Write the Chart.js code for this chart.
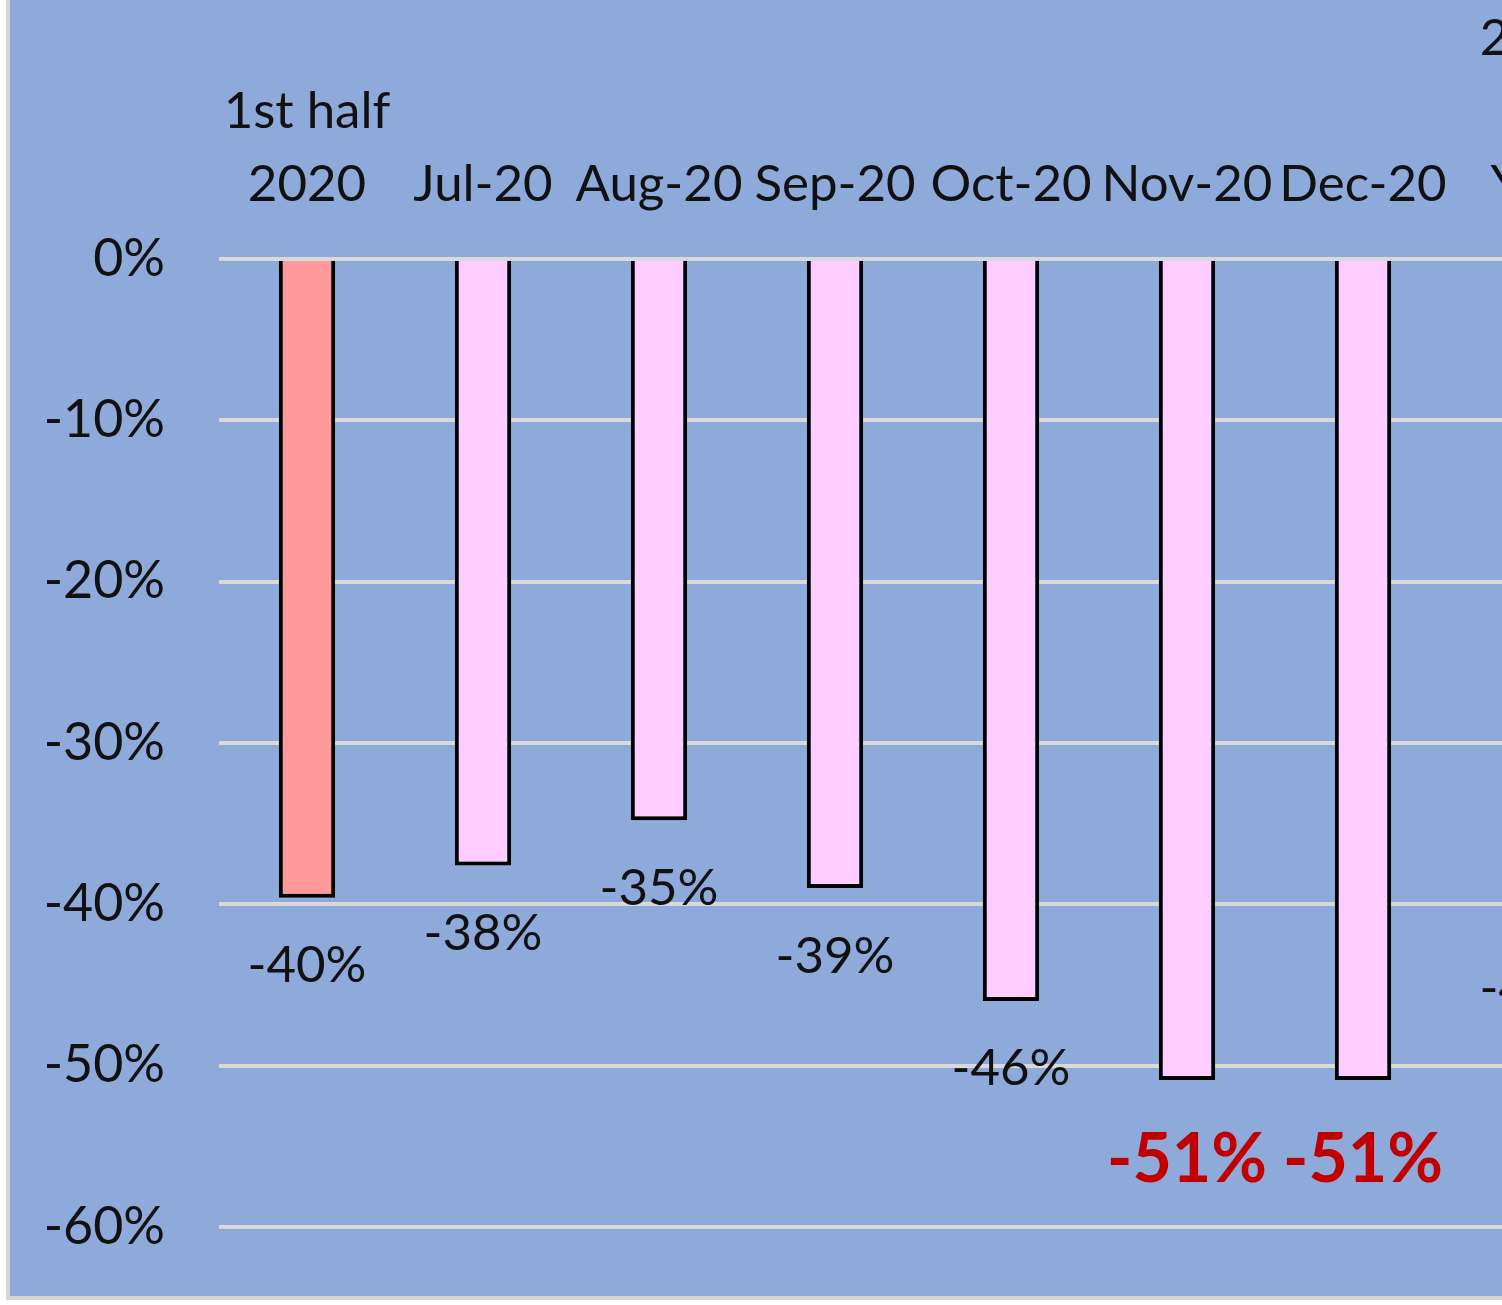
<!DOCTYPE html>
<html>
<head>
<meta charset="utf-8">
<script src="https://cdn.jsdelivr.net/npm/chart.js@4/dist/chart.umd.min.js"></script>
<style>
  html, body { margin: 0; padding: 0; background: #fff; overflow: hidden; }
  #panel {
    position: absolute; left: 6px; top: 0; width: 1624px; height: 1296px; overflow: hidden;
    background: #8eaadb; border-left: 4px solid #d6d6d6; border-bottom: 4px solid #d6d6d6;
  }
  canvas { display: block; }
</style>
</head>
<body>
<div id="panel"><canvas id="myChart" width="1624" height="1312"></canvas></div>
<script>
// categories (last one runs off the right edge, as in the picture)
const categories = [
  ["1st half", "2020"], "Jul-20", "Aug-20", "Sep-20", "Oct-20", "Nov-20", "Dec-20",
  ["2020", "Full", "Year"],
];
// change vs previous year, in %
const changes = [-39.6, -37.6, -34.8, -39.0, -46.0, -50.9, -50.9, -41.0];
const barColors = ["#ff9999", "#ffccff", "#ffccff", "#ffccff", "#ffccff", "#ffccff", "#ffccff", "#ffccff"];
// months with the worst drop get a big red label
const highlight = [false, false, false, false, false, true, true, false];
const yTicks = [0, -10, -20, -30, -40, -50, -60];

const fontFamily = "Lato, 'Open Sans', sans-serif";

// draws "-40%" style labels under each bar
const barLabels = {
  id: "barLabels",
  afterDatasetsDraw(chart) {
    const ctx = chart.ctx;
    const meta = chart.getDatasetMeta(0);
    meta.data.forEach(function (bar, i) {
      const big = highlight[i];
      ctx.save();
      ctx.font = (big ? "bold 68px " : "51px ") + fontFamily;
      ctx.fillStyle = big ? "#c00000" : "#111";
      ctx.textAlign = "center";
      ctx.textBaseline = "middle";
      ctx.fillText(changes[i].toFixed(0) + "%", bar.x, bar.y + (big ? 80 : 68));
      ctx.restore();
    });
  },
};

const ctx1 = document.getElementById("myChart");

new Chart(ctx1, {
  type: "bar",
  data: {
    labels: categories,
    datasets: [
      {
        data: changes,
        backgroundColor: barColors,
        borderColor: "#000",
        borderWidth: 4,
        barPercentage: 0.32,
        categoryPercentage: 1,
      },
    ],
  },
  options: {
    responsive: false,
    animation: false,
    layout: { padding: { left: 0, right: 7, top: 0, bottom: 0 } },
    plugins: {
      legend: { display: false },
      tooltip: { enabled: false },
    },
    scales: {
      x: {
        position: "top",
        grid: { display: false },
        border: { display: false },
        ticks: {
          color: "#111",
          font: { family: fontFamily, size: 51, lineHeight: 1.43 },
          padding: 30,
          maxRotation: 0,
          autoSkip: false,
        },
        afterFit(scale) {
          scale.height = 259;
        },
      },
      y: {
        min: -60,
        max: 0,
        afterBuildTicks(scale) {
          scale.ticks = yTicks.map((v) => ({ value: v }));
        },
        grid: { color: "#d9d9d9", lineWidth: 4, drawTicks: false },
        border: { display: false },
        ticks: {
          color: "#111",
          font: { family: fontFamily, size: 52 },
          padding: 54,
          callback: (v) => v + "%",
        },
        afterFit(scale) {
          scale.width = 209;
        },
      },
    },
  },
  plugins: [barLabels],
});
</script>
</body>
</html>
